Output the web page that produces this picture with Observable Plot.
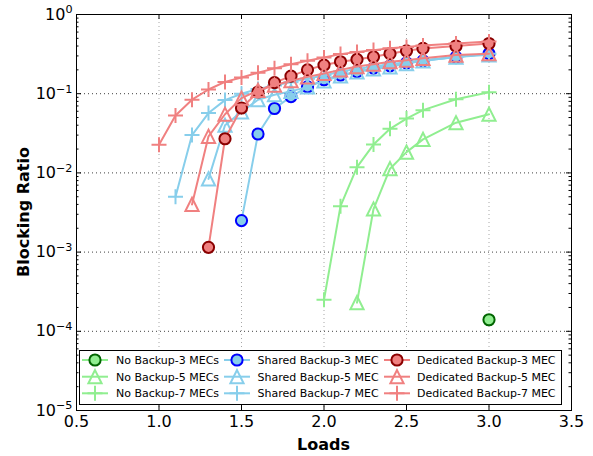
<!DOCTYPE html>
<html><head><meta charset="utf-8">
<script src="https://cdn.jsdelivr.net/npm/d3@7"></script>
<script src="https://cdn.jsdelivr.net/npm/@observablehq/plot@0.6"></script>
<style>
html,body{margin:0;padding:0;background:#fff;}
#chart svg{font-family:"DejaVu Sans",sans-serif;display:block;}
</style>
</head><body><div id="chart"></div>
<script>
// ---------- data ----------
const loadsNB3 = [3.0];
const blockNB3 = [1.4e-4];
const loadsNB5 = [2.2, 2.3, 2.4, 2.5, 2.6, 2.8, 3.0];
const blockNB5 = [2.3e-4, 3.5e-3, 0.0113, 0.0183, 0.0265, 0.043, 0.055];
const loadsNB7 = [2.0, 2.1, 2.2, 2.3, 2.4, 2.5, 2.6, 2.8, 3.0];
const blockNB7 = [2.5e-4, 3.8e-3, 0.0118, 0.0228, 0.036, 0.0485, 0.062, 0.085, 0.104];

const loadsSB3 = [1.5, 1.6, 1.7, 1.8, 1.9, 2.0, 2.1, 2.2, 2.3, 2.4, 2.5, 2.6, 2.8, 3.0];
const blockSB3 = [2.5e-3, 0.031, 0.065, 0.092, 0.122, 0.15, 0.172, 0.19, 0.21, 0.225, 0.245, 0.26, 0.29, 0.32];
const loadsSB5 = [1.3, 1.4, 1.5, 1.6, 1.7, 1.8, 1.9, 2.0, 2.1, 2.2, 2.3, 2.4, 2.5, 2.6, 2.8, 3.0];
const blockSB5 = [8.4e-3, 0.040, 0.059, 0.084, 0.097, 0.107, 0.122, 0.145, 0.168, 0.188, 0.205, 0.218, 0.24, 0.26, 0.29, 0.31];
const loadsSB7 = [1.1, 1.2, 1.3, 1.4, 1.5, 1.6, 1.7, 1.8, 1.9, 2.0, 2.1, 2.2, 2.3, 2.4, 2.5, 2.6, 2.8, 3.0];
const blockSB7 = [5.0e-3, 0.030, 0.057, 0.083, 0.100, 0.115, 0.127, 0.14, 0.155, 0.17, 0.19, 0.205, 0.22, 0.235, 0.25, 0.265, 0.29, 0.32];

const loadsDB3 = [1.3, 1.4, 1.5, 1.6, 1.7, 1.8, 1.9, 2.0, 2.1, 2.2, 2.3, 2.4, 2.5, 2.6, 2.8, 3.0];
const blockDB3 = [1.15e-3, 0.027, 0.066, 0.105, 0.138, 0.167, 0.2, 0.23, 0.253, 0.271, 0.292, 0.32, 0.348, 0.373, 0.4, 0.43];
const loadsDB5 = [1.2, 1.3, 1.4, 1.5, 1.6, 1.7, 1.8, 1.9, 2.0, 2.1, 2.2, 2.3, 2.4, 2.5, 2.6, 2.8, 3.0];
const blockDB5 = [4.0e-3, 0.029, 0.055, 0.088, 0.11, 0.128, 0.146, 0.163, 0.18, 0.2, 0.22, 0.236, 0.253, 0.265, 0.28, 0.307, 0.32];
const loadsDB7 = [1.0, 1.1, 1.2, 1.3, 1.4, 1.5, 1.6, 1.7, 1.8, 1.9, 2.0, 2.1, 2.2, 2.3, 2.4, 2.5, 2.6, 2.8, 3.0];
const blockDB7 = [0.0227, 0.053, 0.084, 0.113, 0.141, 0.16, 0.184, 0.209, 0.236, 0.26, 0.287, 0.316, 0.335, 0.355, 0.375, 0.39, 0.405, 0.43, 0.455];

const seriesNames = [
  "No Backup-3 MECs", "No Backup-5 MECs", "No Backup-7 MECs",
  "Shared Backup-3 MEC", "Shared Backup-5 MEC", "Shared Backup-7 MEC",
  "Dedicated Backup-3 MEC", "Dedicated Backup-5 MEC", "Dedicated Backup-7 MEC"
];
const xTicks = [0.5, 1.0, 1.5, 2.0, 2.5, 3.0, 3.5];
const yTicks = [1, 1e-1, 1e-2, 1e-3, 1e-4, 1e-5];

// ---------- styles ----------
const triMpl = {draw(ctx, size){const r = Math.sqrt(size/Math.PI); ctx.moveTo(0,-r); ctx.lineTo(r,r); ctx.lineTo(-r,r); ctx.closePath();}};
const plusMpl = {draw(ctx, size){const r = Math.sqrt(size/Math.PI); ctx.moveTo(-r,0); ctx.lineTo(r,0); ctx.moveTo(0,-r); ctx.lineTo(0,r);}};
const GREEN = "#90ee90", BLUE = "#87ceeb", RED = "#f08080";
const styles = [
  {line: GREEN, kind: "circle", fill: GREEN, edge: "#006400"},
  {line: GREEN, kind: "tri", fill: "none", edge: GREEN},
  {line: GREEN, kind: "plus", fill: "none", edge: GREEN},
  {line: BLUE, kind: "circle", fill: BLUE, edge: "#0000ff"},
  {line: BLUE, kind: "tri", fill: "none", edge: BLUE},
  {line: BLUE, kind: "plus", fill: "none", edge: BLUE},
  {line: RED, kind: "circle", fill: RED, edge: "#8b0000"},
  {line: RED, kind: "tri", fill: "none", edge: RED},
  {line: RED, kind: "plus", fill: "none", edge: RED}
];
const seriesData = [
  [loadsNB3, blockNB3], [loadsNB5, blockNB5], [loadsNB7, blockNB7],
  [loadsSB3, blockSB3], [loadsSB5, blockSB5], [loadsSB7, blockSB7],
  [loadsDB3, blockDB3], [loadsDB5, blockDB5], [loadsDB7, blockDB7]
];
const symFor = k => k === "circle" ? "circle" : k === "tri" ? triMpl : plusMpl;
const rFor = k => k === "circle" ? 5.6 : k === "tri" ? 6.6 : 7.5;

const W = 593, H = 456, mL = 76, mR = 22, mT = 14, mB = 46;
const pw = W - mL - mR, ph = H - mT - mB;

const minorY = [];
for (let e = -5; e < 0; e++) for (let k = 2; k <= 9; k++) minorY.push(k * Math.pow(10, e));

const marks = [
  Plot.gridY(yTicks.slice(1, -1), {stroke: "#000", strokeOpacity: 0.75, strokeDasharray: "1,3", strokeWidth: 1}),
  Plot.gridX(xTicks.slice(1, -1), {stroke: "#000", strokeOpacity: 0.35, strokeDasharray: "1,3", strokeWidth: 1}),
];
seriesData.forEach(([xs, ys], i) => {
  const rows = xs.map((x, j) => ({load: x, value: ys[j], series: seriesNames[i]}));
  const s = styles[i];
  marks.push(Plot.line(rows, {x: "load", y: "value", stroke: s.line, strokeWidth: 2}));
  marks.push(Plot.dot(rows, {x: "load", y: "value", symbol: symFor(s.kind), r: rFor(s.kind),
    fill: s.fill, stroke: s.edge, strokeWidth: 2}));
});
marks.push(
  Plot.tickY(yTicks, {y: d => d, insetRight: pw - 5, stroke: "#000"}),
  Plot.tickY(yTicks, {y: d => d, insetLeft: pw - 5, stroke: "#000"}),
  Plot.tickY(minorY, {y: d => d, insetRight: pw - 2.5, stroke: "#000"}),
  Plot.tickY(minorY, {y: d => d, insetLeft: pw - 2.5, stroke: "#000"}),
  Plot.tickX(xTicks, {x: d => d, insetTop: ph - 5, stroke: "#000"}),
  Plot.tickX(xTicks, {x: d => d, insetBottom: ph - 5, stroke: "#000"}),
  Plot.frame({stroke: "#000", strokeWidth: 1}),
  Plot.axisX(xTicks, {tickSize: 0, tickPadding: 5, fontSize: 16, label: null, tickFormat: d => d.toFixed(1)}),
  Plot.axisY(yTicks, {tickSize: 0, tickPadding: 4, fontSize: 16, label: null, tickFormat: d => "10^" + Math.round(Math.log10(d))})
);

const chart = Plot.plot({
  width: W, height: H,
  marginLeft: mL, marginRight: mR, marginTop: mT, marginBottom: mB,
  style: {fontFamily: "DejaVu Sans", background: "#fff", color: "#000"},
  x: {domain: [0.5, 3.5]},
  y: {type: "log", domain: [1e-5, 1]},
  marks
});
document.getElementById("chart").appendChild(chart);

const svg = d3.select(chart);
// superscript exponents on y tick labels
svg.selectAll('g[aria-label="y-axis tick label"] text').each(function(){
  const t = d3.select(this);
  const s = t.text();
  if (!s.startsWith("10^")) return;
  const e = s.slice(3).replace("-", "\u2212");
  t.text(null);
  t.append("tspan").text("10");
  t.append("tspan").attr("dy", "-0.55em").attr("font-size", "0.7em").text(e);
});

// axis titles
svg.append("text").attr("x", mL + pw/2).attr("y", 450).attr("text-anchor", "middle")
  .attr("font-family", "DejaVu Sans").attr("font-weight", "bold").attr("font-size", 16).text("Loads");
svg.append("text").attr("transform", `translate(29,${mT + ph/2}) rotate(-90)`).attr("text-anchor", "middle")
  .attr("font-family", "DejaVu Sans").attr("font-weight", "bold").attr("font-size", 16).text("Blocking Ratio");

// legend
const lg = svg.append("g").attr("aria-label", "legend").attr("text-anchor", "start");
lg.append("rect").attr("x", 79.5).attr("y", 350.5).attr("width", 482).attr("height", 54)
  .attr("fill", "#fff").attr("stroke", "#000").attr("stroke-width", 1);
const colX = [95, 237, 397], rowY = [360, 376.7, 393.3], textX = [116, 257.5, 417];
const d3sym = (k) => d3.symbol().type(k === "circle" ? d3.symbolCircle : k === "tri" ? triMpl : plusMpl)
  .size(Math.PI * rFor(k) * rFor(k))();
seriesNames.forEach((name, i) => {
  const c = Math.floor(i / 3), r = i % 3, s = styles[i];
  const cx = colX[c], cy = rowY[r];
  lg.append("line").attr("x1", cx - 13).attr("x2", cx + 13).attr("y1", cy).attr("y2", cy)
    .attr("stroke", s.line).attr("stroke-width", 2);
  lg.append("path").attr("d", d3sym(s.kind)).attr("transform", `translate(${cx},${cy})`)
    .attr("fill", s.fill).attr("stroke", s.edge).attr("stroke-width", 2);
  lg.append("text").attr("x", textX[c]).attr("y", cy).attr("dy", "0.35em").attr("text-anchor", "start")
    .attr("font-family", "DejaVu Sans").attr("font-size", 11).text(name);
});
</script>
</body></html>
